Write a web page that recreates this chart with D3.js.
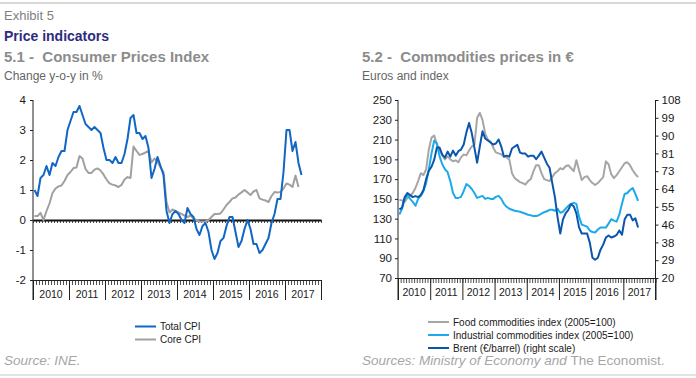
<!DOCTYPE html>
<html><head><meta charset="utf-8">
<script src="https://cdn.jsdelivr.net/npm/d3@7/dist/d3.min.js"></script>
<style>
body{margin:0;background:#fff;}
svg{display:block;font-family:"Liberation Sans",Arial,sans-serif;}
</style>
</head><body>
<svg id="c" width="696" height="378"></svg>
<script>
// ---------- DATA ----------
const years = ["2010","2011","2012","2013","2014","2015","2016","2017"];
// Monthly, Jan 2010 onward
const cpiTotal = [
 1.0,0.8,1.4,1.5,1.8,1.5,1.9,1.8,2.1,2.3,2.3,3.0,
 3.3,3.6,3.6,3.8,3.5,3.2,3.1,3.0,3.1,3.0,2.9,2.4,
 2.0,2.0,1.9,2.1,1.9,1.9,2.2,2.7,3.4,3.5,2.9,2.9,
 2.7,2.8,2.4,1.4,1.7,2.1,1.8,1.5,0.3,-0.1,0.2,0.3,
 0.2,0.0,-0.1,0.4,0.2,0.1,-0.3,-0.5,-0.2,-0.1,-0.4,-1.0,
 -1.3,-1.1,-0.7,-0.6,-0.2,0.1,0.1,-0.4,-0.9,-0.7,-0.3,0.0,
 -0.3,-0.8,-0.8,-1.1,-1.0,-0.8,-0.6,-0.1,0.2,0.7,0.7,1.6,
 3.0,3.0,2.3,2.6,1.9,1.5];
const cpiCore = [
 0.13,0.13,0.24,0.0,0.3,0.55,0.9,1.05,1.12,1.15,1.3,1.5,
 1.6,1.73,1.75,2.13,2.05,1.7,1.57,1.57,1.68,1.72,1.65,1.52,
 1.35,1.22,1.18,1.15,1.1,1.17,1.35,1.43,1.4,2.45,2.3,2.17,
 2.2,2.25,2.3,1.92,2.05,1.95,1.75,1.6,0.6,0.25,0.35,0.3,
 0.25,0.2,0.15,0.1,0.15,0.05,0.0,-0.05,-0.05,-0.05,0.0,0.1,
 0.2,0.2,0.22,0.35,0.5,0.6,0.72,0.75,0.85,0.92,1.0,0.92,
 0.83,0.95,1.0,0.72,0.68,0.65,0.6,0.8,0.93,0.92,0.93,1.05,
 1.22,1.18,1.1,1.48,1.1];
const foodIndex = [
 149,148.5,147,151,153,156,161,168,176,174,180,200,
 212,214,205,199,194,190,193,190,188,189,187,192,
 195,194,199,203,205,232,237,230,216,210,208,202,
 197,196,195,193,192,190,176,171,169,167,166,164.5,
 168,170,178,184,184,176,170,169,168,172,176,178,
 181,180,183,184,181,178,189,179,169,172,173,169,
 166,164,166,169,172,188,185,175,171,174,178,182,
 186,187,184,179,175,172];
const industrialIndex = [
 134,140,150,154,150,147,143,150,153,158,166,180,
 196,209,206,193,185,180,177,168,156,151,151,152,
 158,165,163,160,156,151,152,153,150,151,150,150,
 152,153,150,145,142,140,139,138,137.5,137,136,135,
 134,133.5,132.6,132.6,133.5,135,136.5,137.5,139,139,138,140,
 136,137,140,143,145,146,145,132,124,123,122,118,
 116.5,116,119,121,121,121,125,129.5,128,127,134,145,
 155,156,159,161,155,148];
const brentEur = [
 53.9,54.7,60,62,61,60,60.5,60,61,63.5,69,73,
 75,78.5,84.5,84.5,81,79.5,82.5,80,83,80.5,82.7,83.5,
 86,92,96.6,91.7,84.3,77,85,92.5,89,88,87,86,
 86.5,88.5,85,80,80.5,80,84,85,85.8,82,81.5,81.5,
 80,80.5,80.5,78.7,80.5,82.5,79.5,76.5,74.5,67,60,50,
 42,49,52,53.7,56.5,55.5,52,45,42,42,42,37.5,
 30,29,30,34,36.5,40,41,40,40.5,41.3,43.5,41.4,
 49,51.3,51.3,48.5,49.5,45];
const leftTickValues = [-2,-1,0,1,2,3,4];
const rightLeftTickValues = [70,90,110,130,150,170,190,210,230,250];
const rightRightTickValues = [20,28.8,37.6,46.4,55.2,64,72.8,81.6,90.4,99.2,108];
const rightRightTickLabels = ["20","29","38","46","55","64","73","81","90","99","108"];

// ---------- STYLE ----------
const C = {total:"#1266C4", core:"#A0A0A0", food:"#A6A6A6", ind:"#1DAAEB", brent:"#0B56AD"};
const svg = d3.select("#c");
const nMonths = years.length*12;

// borders
svg.append("line").attr("x1",0).attr("x2",696).attr("y1",3).attr("y2",3).attr("stroke","#d9d9d9").attr("stroke-width",2);
svg.append("line").attr("x1",0).attr("x2",696).attr("y1",375).attr("y2",375).attr("stroke","#d9d9d9").attr("stroke-width",1.5);

// titles
svg.append("text").attr("x",4).attr("y",20).text("Exhibit 5").attr("font-size",13).attr("fill","#7f7f7f");
svg.append("text").attr("x",4).attr("y",40.5).text("Price indicators").attr("font-size",14).attr("font-weight","bold").attr("fill","#2E2B7E");
svg.append("text").attr("x",4).attr("y",61.5).text("5.1 -  Consumer Prices Index").attr("font-size",15).attr("font-weight","bold").attr("fill","#8c8c8c").style("white-space","pre").attr("xml:space","preserve");
svg.append("text").attr("x",4).attr("y",80).text("Change y-o-y in %").attr("font-size",12).attr("fill","#666");
svg.append("text").attr("x",362).attr("y",61.5).text("5.2 -  Commodities prices in €").attr("font-size",15).attr("font-weight","bold").attr("fill","#8c8c8c").attr("xml:space","preserve");
svg.append("text").attr("x",362).attr("y",80).text("Euros and index").attr("font-size",12).attr("fill","#666");

function monthAxes(g, x, yBase, yBottom){
  // month ticks
  g.append("g").attr("transform",`translate(0,${yBase})`)
    .call(d3.axisBottom(x).tickValues(d3.range(0,nMonths+1)).tickSize(5).tickSizeOuter(0).tickFormat(""))
    .call(a=>a.selectAll("line").attr("stroke","#222").attr("stroke-width",0.8))
    .call(a=>a.select(".domain").attr("stroke","#222"));
  // year separators
  g.append("g").attr("transform",`translate(0,${yBase})`)
    .call(d3.axisBottom(x).tickValues(d3.range(0,nMonths+1,12)).tickSize(yBottom-yBase).tickSizeOuter(0).tickFormat(""))
    .call(a=>a.selectAll("line").attr("stroke","#222").attr("stroke-width",1))
    .call(a=>a.select(".domain").remove());
  g.selectAll("text.yr").data(years).enter().append("text").attr("class","yr")
    .attr("x",(d,i)=>x(i*12+6)).attr("y",yBase+18).attr("text-anchor","middle")
    .attr("font-size",10.5).attr("fill","#1a1a1a").text(d=>d);
}

// ---------- LEFT CHART ----------
const xL = d3.scaleLinear().domain([0,nMonths]).range([33,321]);
const yL = d3.scaleLinear().domain([-2,4]).range([280,100]);
const gL = svg.append("g");
gL.append("g").attr("transform","translate(33,0)")
  .call(d3.axisLeft(yL).tickValues(leftTickValues).tickSize(3).tickSizeOuter(0).tickFormat(d=>String(d)))
  .call(a=>a.select(".domain").remove())
  .call(a=>a.selectAll("line").attr("stroke","#222"))
  .call(a=>a.selectAll("text").attr("font-size",11.5).attr("fill","#1a1a1a").attr("font-family","Liberation Sans, Arial, sans-serif").attr("x",-7));
gL.append("line").attr("x1",33).attr("x2",33).attr("y1",yL(4)).attr("y2",300).attr("stroke","#222");
monthAxes(gL, xL, yL(-2), 300);
// zero line with month ticks
gL.append("g").attr("transform",`translate(0,${yL(0)})`)
  .call(d3.axisBottom(xL).tickValues(d3.range(0,nMonths+1)).tickSize(3).tickSizeOuter(0).tickFormat(""))
  .call(a=>a.selectAll("line").attr("stroke","#222").attr("stroke-width",0.8))
  .call(a=>a.select(".domain").attr("stroke","#111").attr("stroke-width",2));

const lineL = arr => d3.line().x((d,i)=>xL(i+0.5)).y(d=>yL(d))(arr);
gL.append("path").attr("d",lineL(cpiCore)).attr("fill","none").attr("stroke",C.core).attr("stroke-width",2).attr("stroke-linejoin","round");
gL.append("path").attr("d",lineL(cpiTotal)).attr("fill","none").attr("stroke",C.total).attr("stroke-width",2).attr("stroke-linejoin","round");

// ---------- RIGHT CHART ----------
const xR = d3.scaleLinear().domain([0,nMonths]).range([398,655.5]);
const yR = d3.scaleLinear().domain([70,250]).range([278,100]);
const yR2 = d3.scaleLinear().domain([20,108]).range([278,100]);
const gR = svg.append("g");
gR.append("g").attr("transform","translate(398,0)")
  .call(d3.axisLeft(yR).tickValues(rightLeftTickValues).tickSize(3).tickSizeOuter(0).tickFormat(d=>String(d)))
  .call(a=>a.select(".domain").remove())
  .call(a=>a.selectAll("line").attr("stroke","#222"))
  .call(a=>a.selectAll("text").attr("font-size",11.5).attr("fill","#1a1a1a").attr("font-family","Liberation Sans, Arial, sans-serif").attr("x",-6));
gR.append("g").attr("transform","translate(655.5,0)")
  .call(d3.axisRight(yR2).tickValues(rightRightTickValues).tickSize(3).tickSizeOuter(0).tickFormat((d,i)=>rightRightTickLabels[i]))
  .call(a=>a.select(".domain").remove())
  .call(a=>a.selectAll("line").attr("stroke","#222"))
  .call(a=>a.selectAll("text").attr("font-size",11.5).attr("fill","#1a1a1a").attr("font-family","Liberation Sans, Arial, sans-serif").attr("x",6));
gR.append("line").attr("x1",398).attr("x2",398).attr("y1",yR(250)).attr("y2",300).attr("stroke","#222");
gR.append("line").attr("x1",655.5).attr("x2",655.5).attr("y1",yR(250)).attr("y2",300).attr("stroke","#222");
monthAxes(gR, xR, yR(70), 300);

const lineR = (arr, y) => d3.line().x((d,i)=>xR(i+0.5)).y(d=>y(d))(arr);
gR.append("path").attr("d",lineR(foodIndex,yR)).attr("fill","none").attr("stroke",C.food).attr("stroke-width",2).attr("stroke-linejoin","round");
gR.append("path").attr("d",lineR(industrialIndex,yR)).attr("fill","none").attr("stroke",C.ind).attr("stroke-width",2).attr("stroke-linejoin","round");
gR.append("path").attr("d",lineR(brentEur,yR2)).attr("fill","none").attr("stroke",C.brent).attr("stroke-width",2).attr("stroke-linejoin","round");

// ---------- LEGENDS ----------
function legend(items, x, y0, dy){
  const g = svg.append("g");
  items.forEach((it,i)=>{
    const y = y0 + i*dy;
    g.append("line").attr("x1",x).attr("x2",x+21).attr("y1",y).attr("y2",y).attr("stroke",it.c).attr("stroke-width",2);
    g.append("text").attr("x",x+25).attr("y",y+3.5).attr("font-size",10).attr("fill","#1a1a1a").text(it.t);
  });
}
legend([{t:"Total CPI",c:C.total},{t:"Core CPI",c:C.core}], 135, 326.5, 13);
legend([{t:"Food commodities index (2005=100)",c:C.food},{t:"Industrial commodities index (2005=100)",c:C.ind},{t:"Brent (€/barrel) (right scale)",c:C.brent}], 428, 322, 13);

// ---------- SOURCES ----------
svg.append("text").attr("x",4).attr("y",365).attr("font-size",13.5).attr("font-style","italic").attr("fill","#a6a6a6").text("Source: INE.");
const s2 = svg.append("text").attr("x",362).attr("y",365).attr("font-size",13.5).attr("fill","#a6a6a6");
s2.append("tspan").attr("font-style","italic").text("Sources: Ministry of Economy and ");
s2.append("tspan").text("The Economist.");
</script>
</body></html>
